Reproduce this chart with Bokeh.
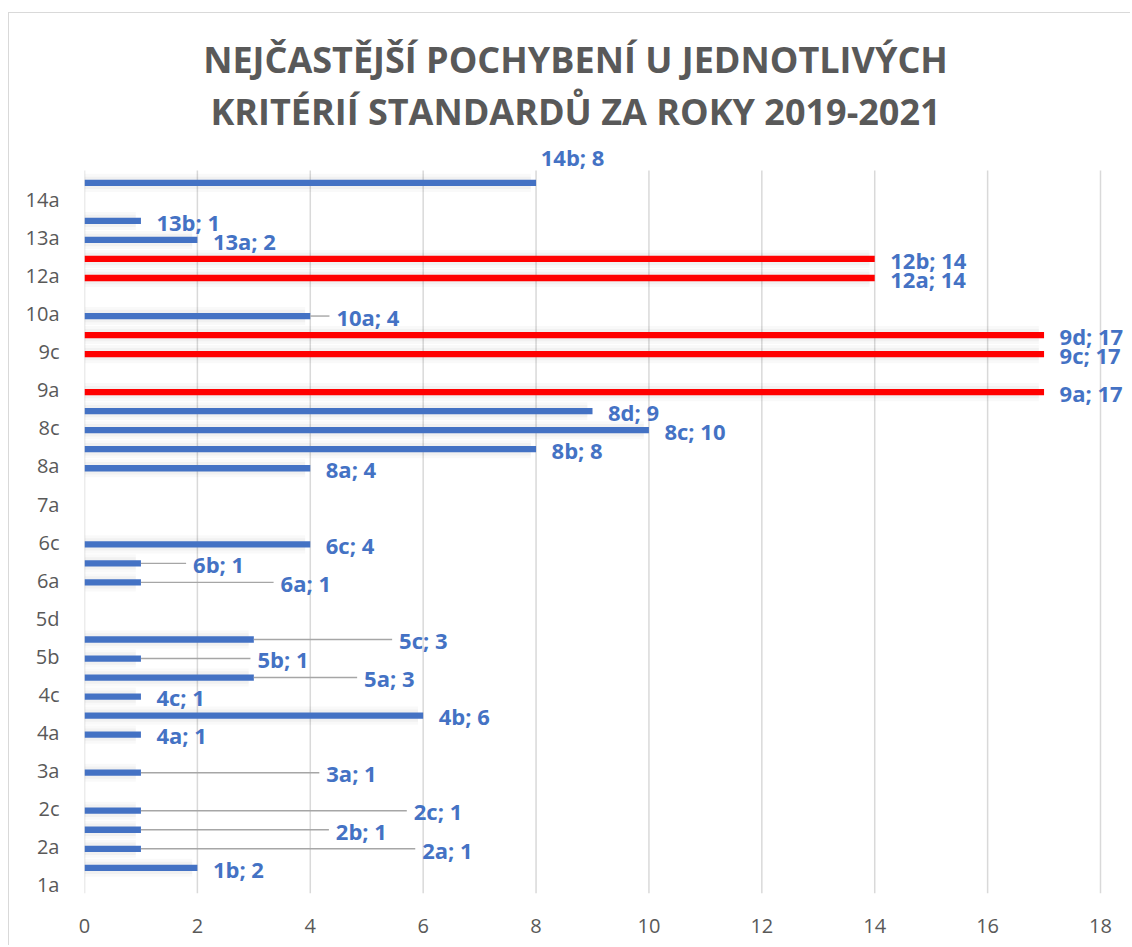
from bokeh.plotting import figure
from bokeh.models import ColumnDataSource, FixedTicker, LabelSet, Label, Range1d
from bokeh.core.properties import value
from bokeh.embed import file_html
from bokeh.resources import INLINE

# ---------------- data ----------------
categories = ["1a", "1b", "2a", "2b", "2c", "2d", "3a", "3b", "4a", "4b", "4c",
              "5a", "5b", "5c", "5d", "5e", "6a", "6b", "6c", "6d", "7a", "7b",
              "8a", "8b", "8c", "8d", "9a", "9b", "9c", "9d", "10a", "10b",
              "12a", "12b", "13a", "13b", "14a", "14b"]
values = [0, 2, 1, 1, 1, 0, 1, 0, 1, 6, 1,
          3, 1, 3, 0, 0, 1, 1, 4, 0, 0, 0,
          4, 8, 10, 9, 17, 0, 17, 17, 4, 0,
          14, 14, 2, 1, 0, 8]
highlighted = ["9a", "9c", "9d", "12a", "12b"]
x_ticks = [0, 2, 4, 6, 8, 10, 12, 14, 16, 18]
title_lines = ["NEJČASTĚJŠÍ POCHYBENÍ U JEDNOTLIVÝCH",
               "KRITÉRIÍ STANDARDŮ ZA ROKY 2019-2021"]

# manually dragged data labels: (start on value axis, row shift, leader line)
label_moves = {
    "2a": (6.01, 0.0, True), "2b": (4.48, 0.0, True), "2c": (5.86, 0.0, True),
    "3a": (4.31, 0.0, True), "5a": (4.98, 0.0, True), "5b": (3.09, 0.0, True),
    "5c": (5.60, 0.0, True), "6a": (3.50, 0.0, True), "6b": (1.95, 0.0, True),
    "10a": (4.49, 0.0, True), "14b": (8.11, 1.42, False),
}

# ---------------- styles / layout ----------------
BLUE = "#4472C4"
RED = "#FF0000"
GREY_TXT = "#595959"
GRID = "#d9d9d9"
LEADER = "#a6a6a6"
FONT = "Open Sans"

W, H = 1122, 933
LEFT, BOTTOM = 75, 53              # canvas pixels left of / below the plot area
AXIS_PX = 1016.0                   # pixel length of the value axis 0..18
ROW_PX = 723.0 / len(categories)   # pixel height of one category row
Y0 = -0.35                         # bottom edge of the plot area (rows)
Y1 = len(categories) - 1 + 0.65    # top edge of the plot area (rows)
LABEL_DY = -0.04                   # small vertical nudge of data labels (rows)
TICK_DY = 0.12                     # category labels sit slightly above the bars

px_per_unit = AXIS_PX / (x_ticks[-1] - x_ticks[0])
x_end = (W - LEFT) / px_per_unit
y_end = Y0 + (H - BOTTOM) / ROW_PX

# ---------------- derived sources ----------------
n = len(categories)
bar_y, bar_v, bar_c, shadow_r = [], [], [], []
def_x, def_y, def_t = [], [], []
mov_x, mov_y, mov_t = [], [], []
ld_x0, ld_x1, ld_y = [], [], []
for i, (c, v) in enumerate(zip(categories, values)):
    if v <= 0:
        continue
    bar_y.append(i)
    bar_v.append(v)
    bar_c.append(RED if c in highlighted else BLUE)
    shadow_r.append(v - 0.09)
    txt = f"{c}; {v}"
    if c in label_moves:
        lx, dy, leader = label_moves[c]
        mov_x.append(lx)
        mov_y.append(i + dy + LABEL_DY)
        mov_t.append(txt)
        if leader:
            ld_x0.append(v)
            ld_x1.append(lx - 0.15)
            ld_y.append(i)
    else:
        def_x.append(v)
        def_y.append(i + LABEL_DY)
        def_t.append(txt)

bars = ColumnDataSource(dict(y=bar_y, v=bar_v, c=bar_c, s=shadow_r))
def_src = ColumnDataSource(dict(x=def_x, y=def_y, t=def_t))
mov_src = ColumnDataSource(dict(x=mov_x, y=mov_y, t=mov_t))
ld_src = ColumnDataSource(dict(x0=ld_x0, x1=ld_x1, y=ld_y))
grid_src = ColumnDataSource(dict(x=x_ticks, y0=[Y0] * len(x_ticks),
                                 y1=[Y1] * len(x_ticks)))

# ---------------- figure ----------------
p = figure(width=W, height=H,
           x_range=Range1d(x_ticks[0], x_end),
           y_range=Range1d(Y0, y_end),
           output_backend="svg", toolbar_location=None,
           min_border_left=LEFT, min_border_right=0,
           min_border_top=0, min_border_bottom=BOTTOM)
p.styles = {"border-top": f"1px solid {GRID}", "border-left": f"1px solid {GRID}",
            "margin-top": "12px", "margin-left": "8px"}
p.outline_line_color = None
p.background_fill_color = "white"
p.border_fill_color = "white"
p.xgrid.grid_line_color = None
p.ygrid.grid_line_color = None

p.xaxis.ticker = FixedTicker(ticks=x_ticks)
even = list(range(0, n, 2))
y_tick_pos = [i + TICK_DY for i in even]
p.yaxis.ticker = FixedTicker(ticks=y_tick_pos)
p.yaxis.major_label_overrides = {t: categories[i] for t, i in zip(y_tick_pos, even)}
for ax in (p.xaxis, p.yaxis):
    ax.axis_line_color = None
    ax.major_tick_line_color = None
    ax.minor_tick_line_color = None
    ax.major_label_text_font = FONT
    ax.major_label_text_font_size = "20px"
    ax.major_label_text_color = GREY_TXT
p.xaxis.major_label_standoff = 19
p.yaxis.major_label_standoff = 19

# vertical gridlines (plot area only)
p.segment(x0="x", y0="y0", x1="x", y1="y1", source=grid_src,
          line_color=GRID, line_width=1.5)

# soft shadow under bars
p.hbar(y="y", left=0, right="s", height=0.95, source=bars,
       fill_color="black", fill_alpha=0.025, line_color=None)
p.hbar(y="y", left=0, right="s", height=0.65, source=bars,
       fill_color="black", fill_alpha=0.03, line_color=None)
# bars
p.hbar(y="y", left=0, right="v", height=0.33, source=bars,
       fill_color="c", line_color=None)

# leader lines
p.segment(x0="x0", y0="y", x1="x1", y1="y", source=ld_src,
          line_color=LEADER, line_width=1.4)

# data labels
common = dict(text="t", text_font=value(FONT), text_font_size=value("22px"),
              text_font_style=value("bold"), text_color=value(BLUE),
              text_align=value("left"), text_baseline=value("middle"))
p.add_layout(LabelSet(x="x", y="y", source=def_src, x_offset=15.5, **common))
p.add_layout(LabelSet(x="x", y="y", source=mov_src, x_offset=-1.5, **common))

# title (two centred lines above the plot area)
title_x = (575 - 84) / px_per_unit
title_y = [n - 1 + (182.3 - 59) / ROW_PX, n - 1 + (182.3 - 111) / ROW_PX]
for line, ty in zip(title_lines, title_y):
    p.add_layout(Label(x=title_x, y=ty, text=line, text_font=FONT,
                       text_font_size="36px", text_font_style="bold",
                       text_color=GREY_TXT, text_align="center",
                       text_baseline="middle"))

open("out.html", "w").write(file_html(p, INLINE))
